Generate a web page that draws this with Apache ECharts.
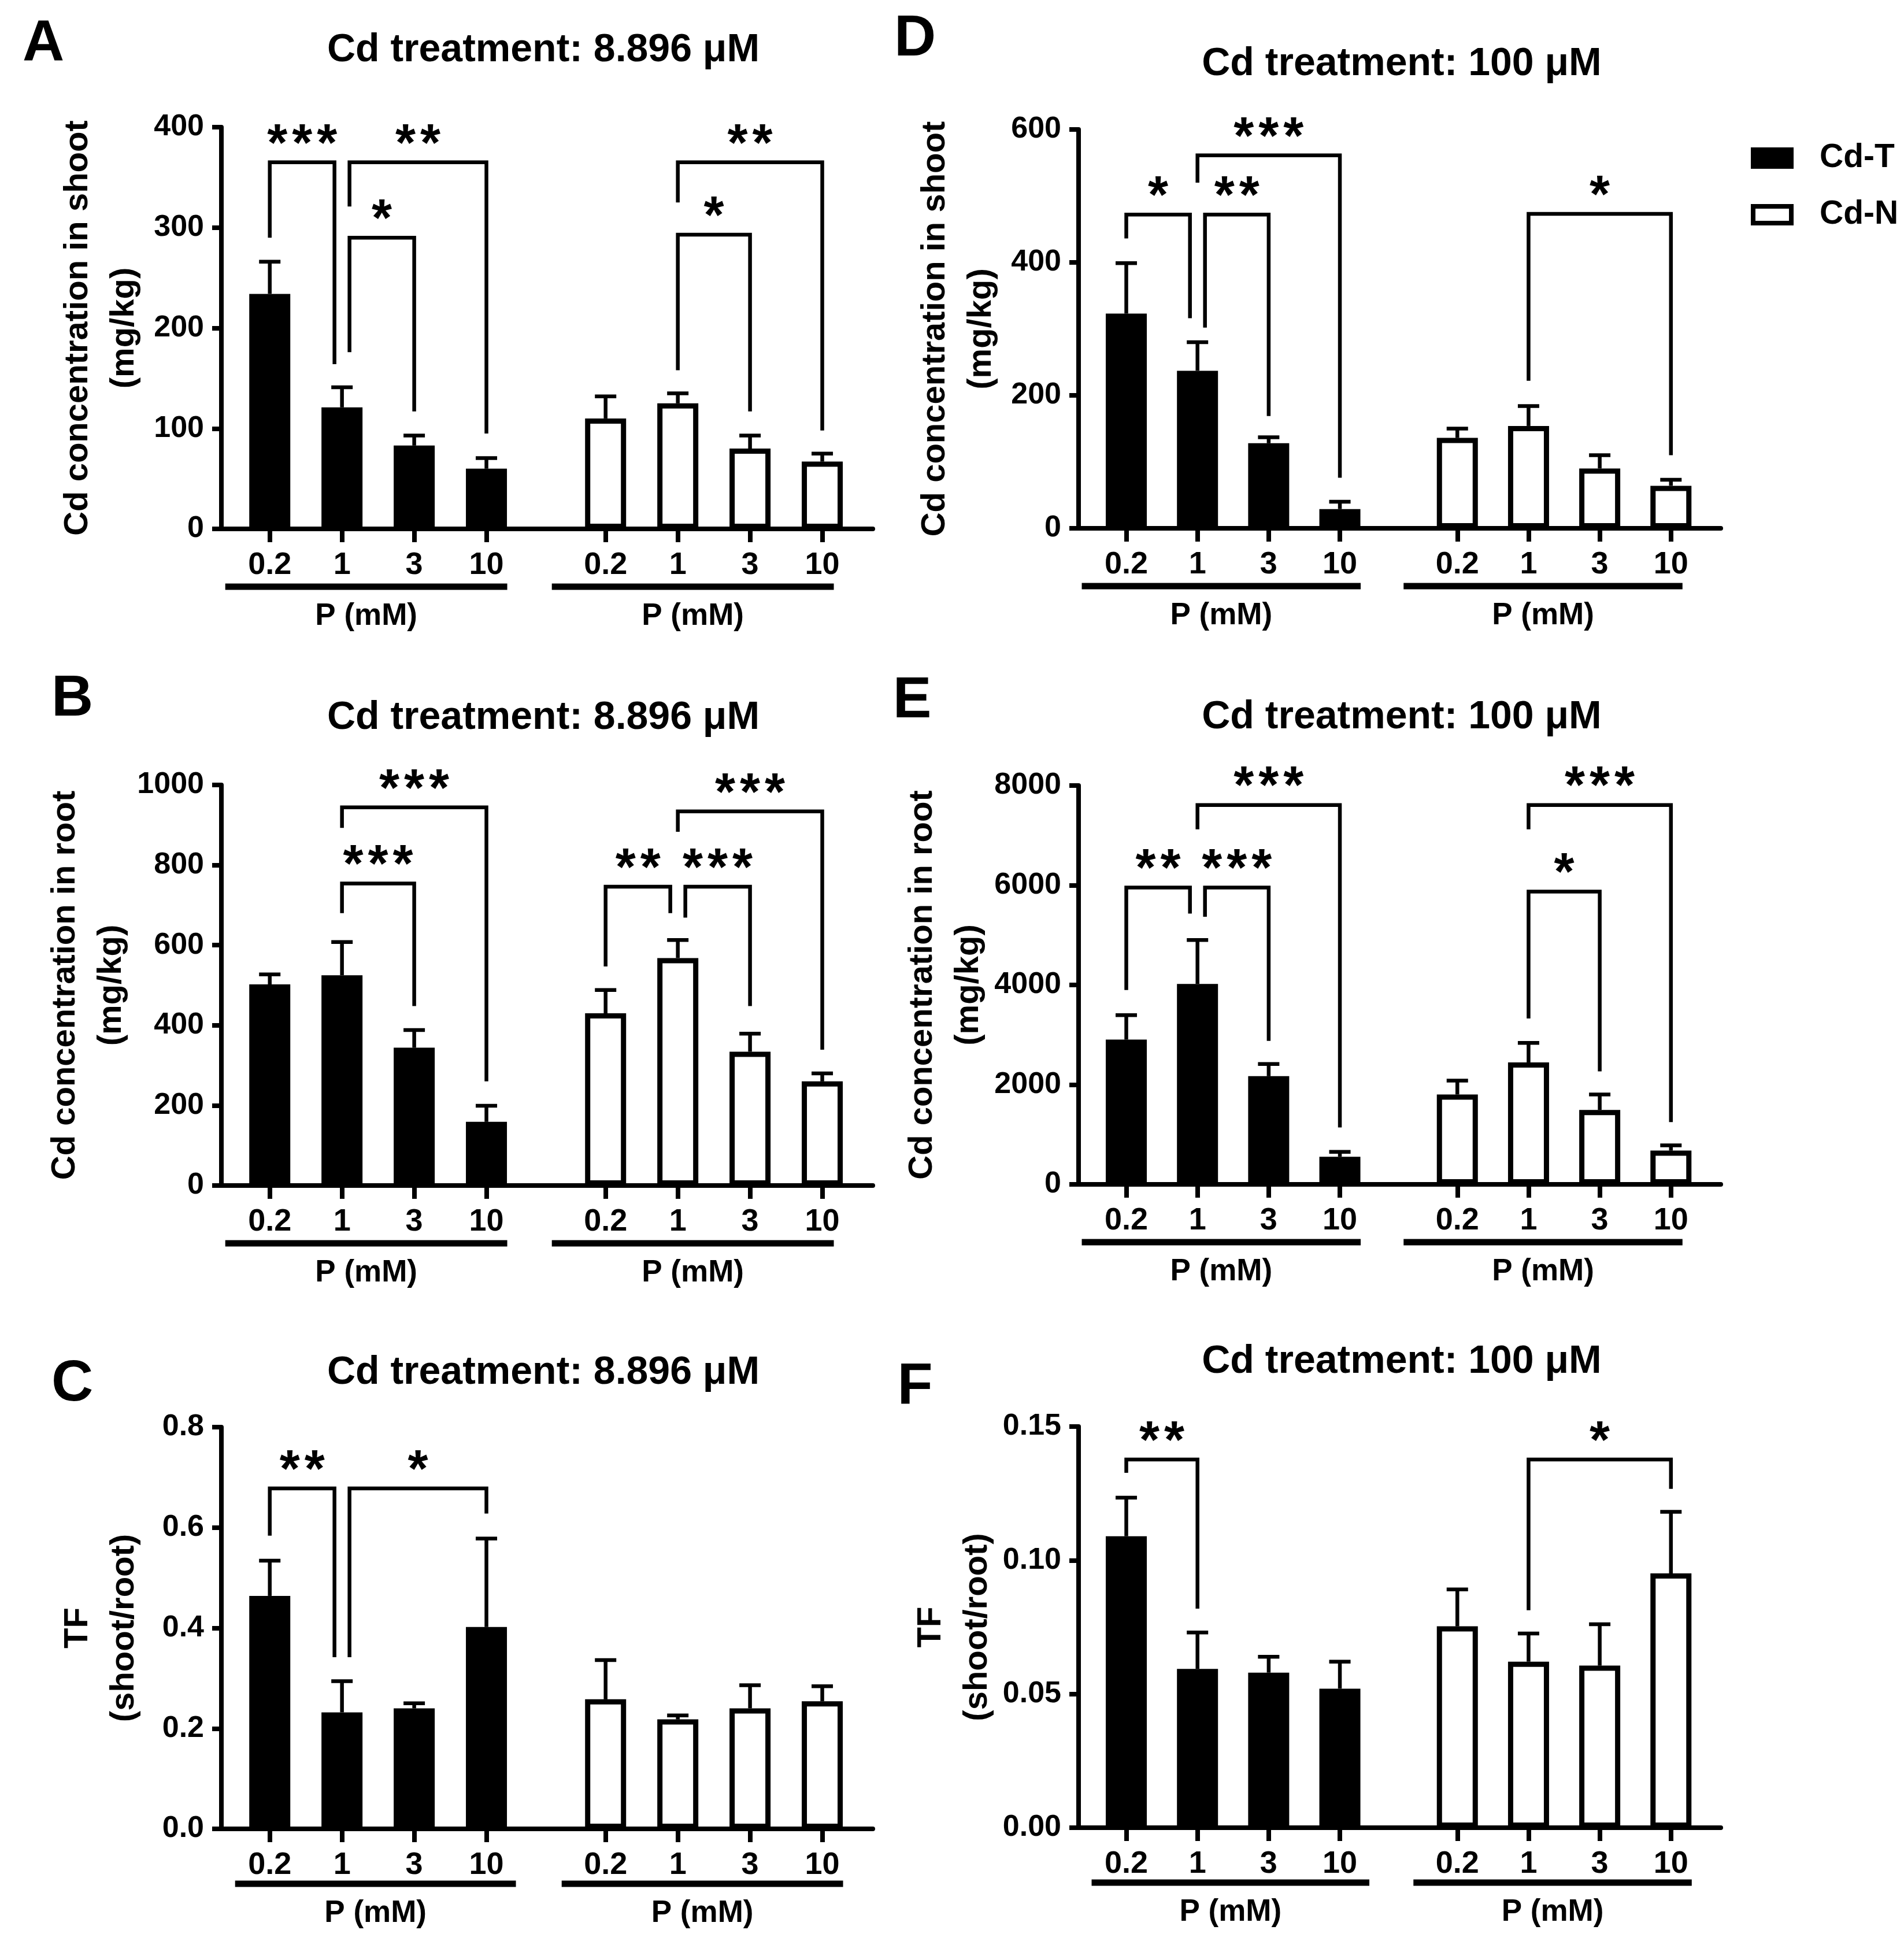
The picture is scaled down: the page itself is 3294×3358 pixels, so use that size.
<!DOCTYPE html>
<html><head><meta charset="utf-8">
<script src="https://cdn.jsdelivr.net/npm/echarts@6/dist/echarts.min.js"></script>
<style>html,body{margin:0;padding:0;background:#fff}#chart{width:3294px;height:3358px}</style>
</head><body><div id="chart"></div>
<script>
// ---------------- data ----------------
const P_LEVELS = ['0.2', '1', '3', '10'];
const GROUP_NAMES = ['Cd-T', 'Cd-N'];
const TITLE_LOW = 'Cd treatment: 8.896 \u03bcM';
const TITLE_HIGH = 'Cd treatment: 100 \u03bcM';
const Y_SHOOT = 'Cd concentration in shoot\n(mg/kg)';
const Y_ROOT = 'Cd concentration in root\n(mg/kg)';
const Y_TF = 'TF\n(shoot/root)';

// Panel A: shoot, 8.896 uM
const A_T_MEAN = [234, 121, 83, 60];
const A_T_ERR = [32, 20, 10, 10.5];
const A_N_MEAN = [110, 125, 80, 67];
const A_N_ERR = [22, 10, 13, 8];
// [from, to, bracket level, left leg end, right leg end, label]
const A_T_SIG = [[0, 1, 365, 290, 164, '***'], [1, 3, 365, 321, 95, '**'], [1, 2, 290, 176, 117, '*']];
const A_N_SIG = [[1, 3, 365, 325, 98, '**'], [1, 2, 293, 158, 117, '*']];

// Panel B: root, 8.896 uM
const B_T_MEAN = [502, 525, 344, 159];
const B_T_ERR = [25, 83, 44, 40];
const B_N_MEAN = [430, 568, 334, 260];
const B_N_ERR = [58, 45, 45, 20];
const B_T_SIG = [[1, 3, 944, 893, 260, '***'], [1, 2, 754, 680, 448, '***']];
const B_N_SIG = [[1, 3, 934, 883, 339, '***'], [0, 1, 746, 547, 680, '**'], [1, 2, 746, 669, 448, '***']];

// Panel C: TF, 8.896 uM
const C_T_MEAN = [0.464, 0.232, 0.240, 0.402];
const C_T_ERR = [0.070, 0.062, 0.010, 0.176];
const C_N_MEAN = [0.258, 0.218, 0.240, 0.254];
const C_N_ERR = [0.078, 0.008, 0.046, 0.030];
const C_T_SIG = [[0, 1, 0.678, 0.584, 0.342, '**'], [1, 3, 0.678, 0.342, 0.628, '*']];
const C_N_SIG = [];

// Panel D: shoot, 100 uM
const D_T_MEAN = [323, 237, 128, 29];
const D_T_ERR = [76, 43, 9, 11];
const D_N_MEAN = [136, 154, 90, 64];
const D_N_ERR = [14, 30, 20, 9];
const D_T_SIG = [[1, 3, 561, 520, 76, '***'], [0, 1, 472, 436, 316, '*'], [1, 2, 472, 302, 169, '**']];
const D_N_SIG = [[1, 3, 473, 222, 110, '*']];

// Panel E: root, 100 uM
const E_T_MEAN = [2904, 4021, 2170, 555];
const E_T_ERR = [489, 881, 244, 97];
const E_N_MEAN = [1803, 2447, 1493, 677];
const E_N_ERR = [277, 391, 310, 106];
const E_T_SIG = [[1, 3, 7610, 7121, 1142, '***'], [0, 1, 5954, 3899, 5432, '**'], [1, 2, 5954, 5367, 2879, '***']];
const E_N_SIG = [[1, 3, 7610, 7121, 1248, '***'], [1, 2, 5873, 3328, 2268, '*']];

// Panel F: TF, 100 uM
const F_T_MEAN = [0.109, 0.0594, 0.058, 0.052];
const F_T_ERR = [0.0144, 0.0136, 0.0059, 0.0101];
const F_N_MEAN = [0.0753, 0.0621, 0.0606, 0.0951];
const F_N_ERR = [0.0138, 0.0105, 0.0155, 0.023];
const F_T_SIG = [[0, 1, 0.1377, 0.1327, 0.0819, '**']];
const F_N_SIG = [[1, 3, 0.1377, 0.0813, 0.1267, '*']];

// ---------------- layout ----------------
const FONT = '"Liberation Sans", Arial, Helvetica, sans-serif';
const X_MIN = -0.67, X_MAX = 8.35, N_OFFSET = 4.65;
function xPos(g, i) { return g === 0 ? i : N_OFFSET + i; }
const ALL_POS = [0, 1, 2, 3].map(i => xPos(0, i)).concat([0, 1, 2, 3].map(i => xPos(1, i)));

const panels = [
  {letter: 'A', lx: 75, ly: 77, title: TITLE_LOW, tx: 940, ty: 87, left: 383, top: 220, width: 1127, height: 695,
   yMax: 400, yInt: 100, dec: 0, yName: Y_SHOOT, tm: A_T_MEAN, te: A_T_ERR, nm: A_N_MEAN, ne: A_N_ERR, ts: A_T_SIG, ns: A_N_SIG,
   ul: [[-77, 36], [-93, 20]], ulY: 100, pY: 151},
  {letter: 'B', lx: 125, ly: 1210, title: TITLE_LOW, tx: 940, ty: 1242, left: 383, top: 1358, width: 1127, height: 693,
   yMax: 1000, yInt: 200, dec: 0, yName: Y_ROOT, tm: B_T_MEAN, te: B_T_ERR, nm: B_N_MEAN, ne: B_N_ERR, ts: B_T_SIG, ns: B_N_SIG,
   ul: [[-77, 36], [-93, 20]], ulY: 100, pY: 151},
  {letter: 'C', lx: 125, ly: 2395, title: TITLE_LOW, tx: 940, ty: 2375, left: 383, top: 2469, width: 1127, height: 695,
   yMax: 0.8, yInt: 0.2, dec: 1, yName: Y_TF, tm: C_T_MEAN, te: C_T_ERR, nm: C_N_MEAN, ne: C_N_ERR, ts: C_T_SIG, ns: C_N_SIG,
   ul: [[-60, 51], [-76, 36]], ulY: 95, pY: 146},
  {letter: 'D', lx: 1583, ly: 68, title: TITLE_HIGH, tx: 2425, ty: 111, left: 1866, top: 224, width: 1111, height: 690,
   yMax: 600, yInt: 200, dec: 0, yName: Y_SHOOT, tm: D_T_MEAN, te: D_T_ERR, nm: D_N_MEAN, ne: D_N_ERR, ts: D_T_SIG, ns: D_N_SIG,
   ul: [[-77, 36], [-93, 20]], ulY: 100, pY: 151},
  {letter: 'E', lx: 1578, ly: 1213, title: TITLE_HIGH, tx: 2425, ty: 1241, left: 1866, top: 1359, width: 1111, height: 690,
   yMax: 8000, yInt: 2000, dec: 0, yName: Y_ROOT, tm: E_T_MEAN, te: E_T_ERR, nm: E_N_MEAN, ne: E_N_ERR, ts: E_T_SIG, ns: E_N_SIG,
   ul: [[-77, 36], [-93, 20]], ulY: 100, pY: 151},
  {letter: 'F', lx: 1583, ly: 2400, title: TITLE_HIGH, tx: 2425, ty: 2356, left: 1866, top: 2468, width: 1111, height: 694,
   yMax: 0.15, yInt: 0.05, dec: 2, yName: Y_TF, tm: F_T_MEAN, te: F_T_ERR, nm: F_N_MEAN, ne: F_N_ERR, ts: F_T_SIG, ns: F_N_SIG,
   ul: [[-60, 51], [-76, 36]], ulY: 95, pY: 146}
];

const LW = 8;        // axis line width
const EW = 6.5;      // error bar / bracket width
const option = {
  animation: false,
  backgroundColor: '#fff',
  textStyle: {fontFamily: FONT},
  legend: {
    left: 3029, top: 245, orient: 'vertical', padding: 0,
    itemWidth: 66, itemHeight: 29, itemGap: 41, selectedMode: false,
    data: [
      {name: 'Cd-T', icon: 'rect', itemStyle: {color: '#000', borderColor: '#000', borderWidth: 8}},
      {name: 'Cd-N', icon: 'rect', itemStyle: {color: '#fff', borderColor: '#000', borderWidth: 8}}
    ],
    formatter: name => '{g|}{t|' + name + '}',
    textStyle: {rich: {g: {width: 44}, t: {fontSize: 57, fontWeight: 'bold', fontFamily: FONT, color: '#000', lineHeight: 56}}}
  },
  grid: [], xAxis: [], yAxis: [], series: [], graphic: []
};

panels.forEach((p, k) => {
  option.grid.push({left: p.left, top: p.top, width: p.width, height: p.height, containLabel: false});
  option.xAxis.push({
    type: 'value', gridIndex: k, min: X_MIN, max: X_MAX,
    splitLine: {show: false},
    axisLine: {show: true, onZero: false, lineStyle: {color: '#000', width: LW}},
    axisTick: {show: true, inside: false, length: 23, lineStyle: {color: '#000', width: LW}, customValues: ALL_POS},
    axisLabel: {
      show: true, customValues: ALL_POS, margin: 36,
      fontSize: 54, fontWeight: 'bold', fontFamily: FONT, color: '#000',
      formatter: function (v) {
        for (let q = 0; q < ALL_POS.length; q++) if (Math.abs(ALL_POS[q] - v) < 1e-6) return P_LEVELS[q % 4];
        return '';
      }
    }
  });
  option.yAxis.push({
    type: 'value', gridIndex: k, min: 0, max: p.yMax, interval: p.yInt,
    splitLine: {show: false},
    axisLine: {show: true, onZero: false, lineStyle: {color: '#000', width: LW}},
    axisTick: {show: true, inside: false, length: 16, lineStyle: {color: '#000', width: LW}},
    axisLabel: {margin: 30, fontSize: 52, fontWeight: 'bold', fontFamily: FONT, color: '#000',
      formatter: v => Number(v).toFixed(p.dec)},
    name: p.yName, nameLocation: 'middle', nameGap: 128,
    nameTextStyle: {fontSize: 58, fontWeight: 'bold', fontFamily: FONT, color: '#000', lineHeight: 80, align: 'center'}
  });

  const groups = [[p.tm, p.te], [p.nm, p.ne]];
  groups.forEach((gd, g) => {
    option.series.push({
      type: 'bar', name: GROUP_NAMES[g], xAxisIndex: k, yAxisIndex: k,
      barWidth: 71, barGap: '-100%', z: 2,
      itemStyle: {color: g === 0 ? '#000' : '#fff', borderColor: '#000', borderWidth: 9},
      emphasis: {disabled: true},
      data: gd[0].map((v, i) => [xPos(g, i), v])
    });
  });

  // error bars (upper only)
  const errData = [];
  groups.forEach((gd, g) => gd[0].forEach((v, i) => errData.push([xPos(g, i), v, gd[1][i]])));
  option.series.push({
    type: 'custom', xAxisIndex: k, yAxisIndex: k, z: 3, silent: true,
    encode: {x: 0, y: 1},
    data: errData,
    renderItem: function (params, api) {
      const x = api.value(0), m = api.value(1), e = api.value(2);
      const a = api.coord([x, m]), b = api.coord([x, m + e]);
      return {type: 'group', children: [
        {type: 'line', shape: {x1: a[0], y1: a[1], x2: b[0], y2: b[1]}, style: {stroke: '#000', lineWidth: EW}},
        {type: 'line', shape: {x1: b[0] - 18.5, y1: b[1], x2: b[0] + 18.5, y2: b[1]}, style: {stroke: '#000', lineWidth: EW}}
      ]};
    }
  });

  // significance brackets
  const list = [];
  [p.ts, p.ns].forEach((arr, g) => arr.forEach(s => list.push({g, i: s[0], j: s[1], top: s[2], le: s[3], re: s[4], label: s[5]})));
  if (list.length) {
    option.series.push({
      type: 'custom', xAxisIndex: k, yAxisIndex: k, z: 4, silent: true,
      encode: {x: 0, y: 1},
      data: list.map(b => [xPos(b.g, b.i), b.top]),
      renderItem: function (params, api) {
        const b = list[params.dataIndex];
        const others = list.filter(o => o !== b && o.g === b.g);
        const overlapL = others.some(o => o.j === b.i && !(o.top < b.le || o.re > b.top));
        const overlapR = others.some(o => o.i === b.j && !(o.top < b.re || o.le > b.top));
        const xl = api.coord([xPos(b.g, b.i), b.top])[0] + (overlapL ? 13 : 0);
        const xr = api.coord([xPos(b.g, b.j), b.top])[0] - (overlapR ? 13 : 0);
        const yT = api.coord([0, b.top])[1];
        const yL = api.coord([0, b.le])[1];
        const yR = api.coord([0, b.re])[1];
        const children = [{type: 'polyline', shape: {points: [[xl, yL], [xl, yT], [xr, yT], [xr, yR]]},
          style: {stroke: '#000', lineWidth: EW, fill: null, lineJoin: 'miter'}}];
        const n = b.label.length, mid = (xl + xr) / 2;
        for (let q = 0; q < n; q++) {
          children.push({type: 'text', x: mid + (q - (n - 1) / 2) * 43, y: yT - 28,
            style: {text: '*', fontSize: 90, fontWeight: 'bold', fontFamily: FONT, fill: '#000', align: 'center', verticalAlign: 'middle'}});
        }
        return {type: 'group', children};
      }
    });
  }

  // group underline and axis caption
  option.series.push({
    type: 'custom', xAxisIndex: k, yAxisIndex: k, z: 4, silent: true,
    encode: {x: 0, y: 1},
    data: [[xPos(0, 0), 0], [xPos(1, 0), 0]],
    renderItem: function (params, api) {
      const g = params.dataIndex;
      const a = api.coord([xPos(g, 0), 0]);
      const b = api.coord([xPos(g, 3), 0]);
      const x1 = a[0] + p.ul[g][0], x2 = b[0] + p.ul[g][1];
      const y = a[1] + p.ulY;
      return {type: 'group', children: [
        {type: 'rect', shape: {x: x1, y: y - 5.5, width: x2 - x1, height: 11}, style: {fill: '#000'}},
        {type: 'text', x: (x1 + x2) / 2, y: a[1] + p.pY,
          style: {text: 'P (mM)', fontSize: 53, fontWeight: 'bold', fontFamily: FONT, fill: '#000', align: 'center', verticalAlign: 'middle'}}
      ]};
    }
  });

  option.graphic.push({type: 'text', x: p.tx, y: p.ty,
    style: {text: p.title, fontSize: 68, fontWeight: 'bold', fontFamily: FONT, fill: '#000', align: 'center', verticalAlign: 'middle'}});
  option.graphic.push({type: 'text', x: p.lx, y: p.ly,
    style: {text: p.letter, fontSize: 100, fontWeight: 'bold', fontFamily: FONT, fill: '#000', align: 'center', verticalAlign: 'middle'}});
});

const chart = echarts.init(document.getElementById('chart'), null, {renderer: 'canvas'});
chart.setOption(option);
</script>
</body></html>
